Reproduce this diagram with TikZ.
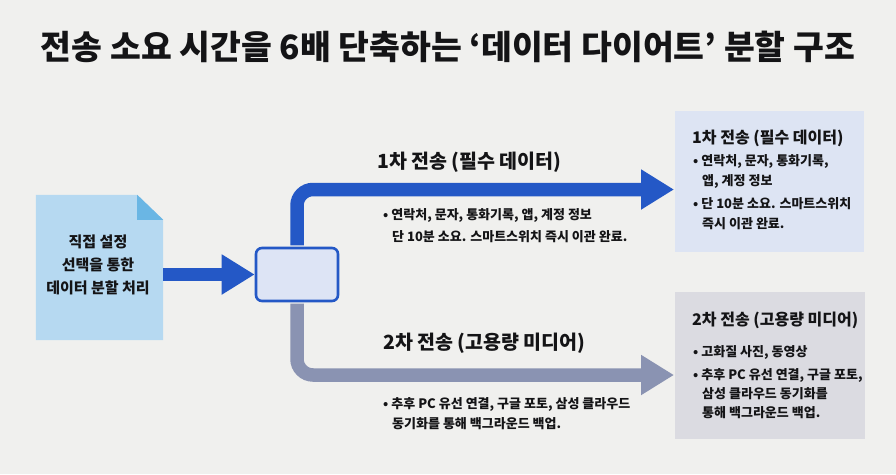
\documentclass[tikz,border=0pt]{standalone}
\usepackage{fontspec}
\setmainfont{Noto Sans CJK KR}
\usetikzlibrary{arrows.meta}

\definecolor{pagebg}{RGB}{240,240,238}
\definecolor{docblue}{RGB}{182,217,241}
\definecolor{foldblue}{RGB}{106,182,228}
\definecolor{flowblue}{RGB}{36,88,198}
\definecolor{flowgray}{RGB}{138,147,178}
\definecolor{hubfill}{RGB}{221,228,245}
\definecolor{boxblue}{RGB}{221,228,243}
\definecolor{boxgray}{RGB}{219,219,225}
\definecolor{ink}{RGB}{20,20,22}

\tikzset{>={Triangle[length=33pt,width=38pt]}}
\tikzset{
  flow/.style={line width=13.5pt, rounded corners=16pt, ->},
  hubbox/.style={draw=flowblue, line width=2.6pt, fill=hubfill,
    rounded corners=6pt, minimum width=82pt, minimum height=53pt},
  docbox/.style={minimum width=127pt, minimum height=145pt, inner sep=0pt},
  headline/.style={font=\bfseries\fontsize{19.5}{23}\selectfont, anchor=west, inner sep=0pt},
  note/.style={font=\bfseries\fontsize{13}{22}\selectfont, anchor=west,
    inner sep=0pt, align=left},
  boxhead/.style={font=\bfseries\fontsize{16}{20}\selectfont, anchor=west, inner sep=0pt},
  boxnote/.style={font=\bfseries\fontsize{13}{20}\selectfont, anchor=west,
    inner sep=0pt, align=left}
}
\newcommand*{\hang}{\hspace*{9pt}}

\begin{document}
\begin{tikzpicture}[x=1pt,y=-1pt,text=ink]
\fill[pagebg] (0,0) rectangle (896,474);
\useasboundingbox (0,0) rectangle (896,474);

\node[font=\bfseries\fontsize{33.5}{38}\selectfont] (title) at (448,47)
  {전송 소요 시간을 6배 단축하는 ‘데이터 다이어트’ 분할 구조};

% source document with folded corner
\node[docbox] (doc) at (99.5,267.5) {};
\fill[docblue] (doc.north west) -- ([xshift=-26pt]doc.north east)
  -- ([yshift=-25pt]doc.north east) -- (doc.south east)
  -- (doc.south west) -- cycle;
\fill[foldblue] ([xshift=-26pt]doc.north east) -- ([yshift=-25pt]doc.north east)
  -- ([xshift=-26pt,yshift=-25pt]doc.north east) -- cycle;
\node[font=\bfseries\fontsize{15}{23}\selectfont, align=center] (docText) at (98,265)
  {직접 설정\\선택을 통한\\데이터 분할 처리};

\node[hubbox] (hub) at (297,274.5) {};
\coordinate (tip1) at (674,189.5);
\coordinate (tip2) at (674,375);

\draw[flow, flowblue] (doc.east |- hub.west) -- (hub.west);
\draw[flow, flowblue, shorten <=1.3pt] (hub.north) |- (tip1);
\draw[flow, flowgray, shorten <=1.3pt] (hub.south) |- (tip2);

\node[headline] (firstHead) at (377,162) {1차 전송 (필수 데이터)};
\node[note] (firstNote) at (383,226)
  {• 연락처, 문자, 통화기록, 앱, 계정 정보\\\hang 단 10분 소요. 스마트스위치 즉시 이관 완료.};
\node[headline] (secondHead) at (383,343) {2차 전송 (고용량 미디어)};
\node[note, font=\bfseries\fontsize{13}{20}\selectfont] (secondNote) at (383,414)
  {• 추후 PC 유선 연결, 구글 포토, 삼성 클라우드\\\hang 동기화를 통해 백그라운드 백업.};

% result panels
\node[fill=boxblue, minimum width=189pt, minimum height=141pt, anchor=north west]
  (box1) at (675,111) {};
\node[boxhead] (box1Head) at (692,138) {1차 전송 (필수 데이터)};
\node[boxnote] (box1NoteA) at (693,171) {• 연락처, 문자, 통화기록,\\\hang 앱, 계정 정보};
\node[boxnote] (box1NoteB) at (693,214) {• 단 10분 소요. 스마트스위치\\\hang 즉시 이관 완료.};

\node[fill=boxgray, minimum width=190pt, minimum height=147pt, anchor=north west]
  (box2) at (675,292) {};
\node[boxhead] (box2Head) at (692,320) {2차 전송 (고용량 미디어)};
\node[boxnote] (box2NoteA) at (693,352) {• 고화질 사진, 동영상};
\node[boxnote, font=\bfseries\fontsize{13}{19}\selectfont] (box2NoteB) at (693,394)
  {• 추후 PC 유선 연결, 구글 포토,\\\hang 삼성 클라우드 동기화를\\\hang 통해 백그라운드 백업.};
\end{tikzpicture}
\end{document}
